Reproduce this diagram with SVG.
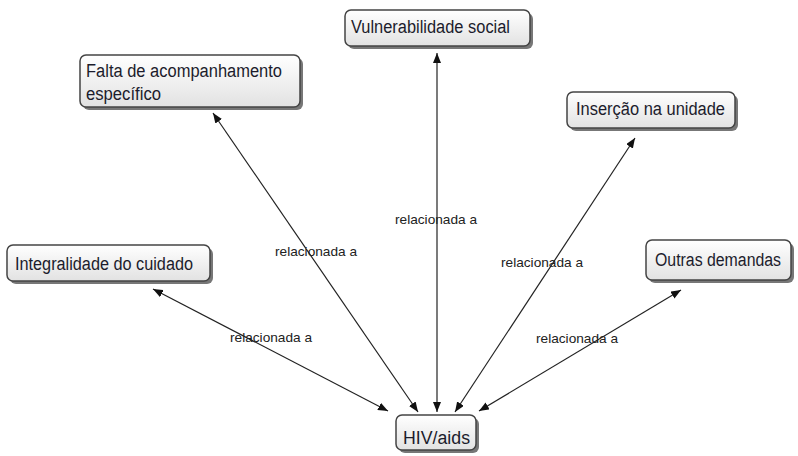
<svg xmlns="http://www.w3.org/2000/svg" width="798" height="456" viewBox="0 0 798 456">
<defs>
<linearGradient id="g" x1="0" y1="0" x2="0" y2="1">
<stop offset="0" stop-color="#ffffff"/>
<stop offset="1" stop-color="#e2e2e2"/>
</linearGradient>
<marker id="ah" viewBox="0 0 10 8" refX="10" refY="4" markerWidth="10" markerHeight="8" markerUnits="userSpaceOnUse" orient="auto-start-reverse">
<path d="M0,0 L10,4 L0,8 z" fill="#111"/>
</marker>
<style>
.box{fill:url(#g);stroke:#444;stroke-width:1.5}
.sh{fill:#555;opacity:0.8}
.t{font-family:"Liberation Sans",Arial,sans-serif;font-size:18px;fill:#1c1c2c}
.l{font-family:"Liberation Sans",Arial,sans-serif;font-size:13.5px;fill:#222;text-anchor:middle}
.c{stroke:#222;stroke-width:1.2;fill:none;marker-start:url(#ah);marker-end:url(#ah)}
</style>
</defs>
<rect width="798" height="456" fill="#fff"/>
<g id="connectors">
<line class="c" x1="388" y1="411" x2="153" y2="289"/>
<line class="c" x1="418" y1="412" x2="213" y2="113"/>
<line class="c" x1="437" y1="412" x2="437" y2="53"/>
<line class="c" x1="455" y1="412" x2="635" y2="138"/>
<line class="c" x1="479" y1="411" x2="681" y2="290"/>
<text class="l" x="436" y="224" textLength="82" lengthAdjust="spacingAndGlyphs">relacionada a</text>
<text class="l" x="316" y="256" textLength="82" lengthAdjust="spacingAndGlyphs">relacionada a</text>
<text class="l" x="542" y="267" textLength="82" lengthAdjust="spacingAndGlyphs">relacionada a</text>
<text class="l" x="271" y="342" textLength="82" lengthAdjust="spacingAndGlyphs">relacionada a</text>
<text class="l" x="577" y="343" textLength="82" lengthAdjust="spacingAndGlyphs">relacionada a</text>
</g>
<g id="n-vuln">
<rect class="sh" x="348" y="13" width="185" height="36" rx="6"/>
<rect class="box" x="345" y="10" width="185" height="36" rx="6"/>
<text class="t" x="351" y="33" textLength="159" lengthAdjust="spacingAndGlyphs">Vulnerabilidade social</text>
</g>
<g id="n-falta">
<rect class="sh" x="83" y="58" width="220" height="52" rx="6"/>
<rect class="box" x="80" y="55" width="220" height="52" rx="6"/>
<text class="t" x="86" y="77" textLength="196" lengthAdjust="spacingAndGlyphs">Falta de acompanhamento</text>
<text class="t" x="86" y="100" textLength="75" lengthAdjust="spacingAndGlyphs">específico</text>
</g>
<g id="n-insercao">
<rect class="sh" x="570" y="95" width="168" height="36" rx="6"/>
<rect class="box" x="567" y="92" width="168" height="36" rx="6"/>
<text class="t" x="576" y="115" textLength="149" lengthAdjust="spacingAndGlyphs">Inserção na unidade</text>
</g>
<g id="n-integral">
<rect class="sh" x="10" y="248" width="203" height="36" rx="6"/>
<rect class="box" x="7" y="245" width="203" height="36" rx="6"/>
<text class="t" x="15" y="270" textLength="178" lengthAdjust="spacingAndGlyphs">Integralidade do cuidado</text>
</g>
<g id="n-outras">
<rect class="sh" x="649" y="243" width="145" height="40" rx="6"/>
<rect class="box" x="646" y="240" width="145" height="40" rx="6"/>
<text class="t" x="655" y="266" textLength="126" lengthAdjust="spacingAndGlyphs">Outras demandas</text>
</g>
<g id="n-hiv">
<rect class="sh" x="399" y="418" width="80" height="35" rx="6"/>
<rect class="box" x="396" y="415" width="80" height="35" rx="6"/>
<text class="t" x="403" y="444" textLength="67" lengthAdjust="spacingAndGlyphs">HIV/aids</text>
</g>
</svg>
